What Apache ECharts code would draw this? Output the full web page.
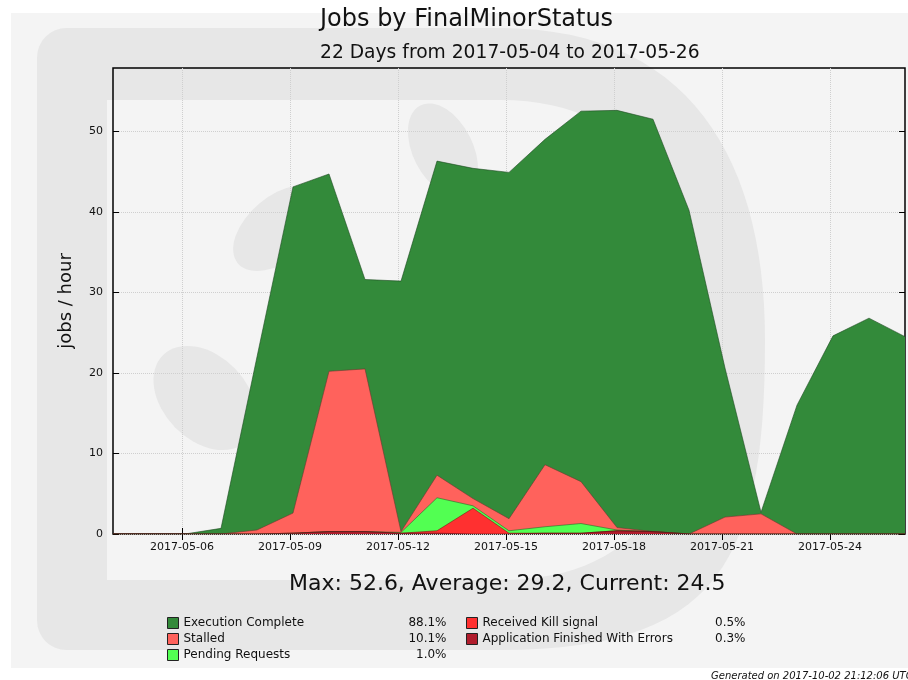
<!DOCTYPE html>
<html>
<head>
<meta charset="utf-8">
<script src="https://cdn.jsdelivr.net/npm/echarts@6/dist/echarts.min.js"></script>
<style>
  html, body { margin: 0; padding: 0; background: #fff; }
  #main { width: 908px; height: 680px; }
</style>
</head>
<body>
<div id="main"></div>
<script>
// daily points (bins at 02:00 UTC)
const dates = ['2017-05-04','2017-05-05','2017-05-06','2017-05-07','2017-05-08','2017-05-09','2017-05-10',
  '2017-05-11','2017-05-12','2017-05-13','2017-05-14','2017-05-15','2017-05-16','2017-05-17','2017-05-18',
  '2017-05-19','2017-05-20','2017-05-21','2017-05-22','2017-05-23','2017-05-24','2017-05-25','2017-05-26'];

const execComplete = [0,0,0,0.7,21.5,40.5,24.5,11.1,31.1,39.0,41.0,43.0,40.4,46.0,51.8,51.2,40.2,18.5,0.2,16.0,24.6,26.8,24.5];
const stalled      = [0,0,0,0,0.5,2.5,19.9,20.2,0.1,2.8,0.9,1.5,7.7,5.2,0.3,0,0,2.1,2.5,0,0,0,0];
const pending      = [0,0,0,0,0,0,0,0,0.1,4.1,0.3,0.3,0.8,1.2,0.1,0,0,0,0,0,0,0,0];
const killSignal   = [0,0,0,0,0,0,0,0,0,0.3,3.2,0.1,0,0,0,0,0,0,0,0,0,0,0];
const appErrors    = [0,0,0,0,0,0.1,0.3,0.3,0.1,0.1,0,0,0.1,0.1,0.4,0.3,0,0,0,0,0,0,0];

const tickDates = ['2017-05-06','2017-05-09','2017-05-12','2017-05-15','2017-05-18','2017-05-21','2017-05-24'];
const yTicks = [0, 10, 20, 30, 40, 50];

const percents = {
  'Execution Complete': '88.1%',
  'Stalled': '10.1%',
  'Pending Requests': '1.0%',
  'Received Kill signal': '0.5%',
  'Application Finished With Errors': '0.3%'
};

// x values are UTC timestamps (ms)
function ts(d, h) {
  const p = d.split('-').map(Number);
  return Date.UTC(p[0], p[1] - 1, p[2], h || 0);
}
function fmtDate(v) {
  return new Date(v).toISOString().slice(0, 10);
}

const FONT = 'DejaVu Sans';
const tickVals = tickDates.map(d => ts(d));
const xMin = ts(dates[0], 2);
const xMax = ts(dates[dates.length - 1], 2);

// stack bottom -> top, like the original plot (smallest at the bottom)
const layers = [
  { name: 'Application Finished With Errors', vals: appErrors, color: '#b01c2c', edge: '#5a1018' },
  { name: 'Received Kill signal', vals: killSignal, color: '#ff3030', edge: '#7a1a1a' },
  { name: 'Pending Requests', vals: pending, color: '#52ff52', edge: '#2a6a2a' },
  { name: 'Stalled', vals: stalled, color: '#ff625c', edge: '#6a3a30' },
  { name: 'Execution Complete', vals: execComplete, color: '#338a3a', edge: '#1f4a22' }
];

// running totals, each layer filled down to zero; upper layers are drawn first
let running = dates.map(() => 0);
const stackedSeries = layers.map(l => {
  running = running.map((v, i) => v + l.vals[i]);
  return {
    name: l.name,
    type: 'line',
    data: dates.map((d, i) => [ts(d, 2), +running[i].toFixed(2)]),
    symbol: 'none',
    showSymbol: false,
    smooth: false,
    itemStyle: { color: l.color },
    lineStyle: { color: l.edge, width: 0.6 },
    areaStyle: { color: l.color, opacity: 1, origin: 'start' }
  };
}).reverse();

// --- watermark helpers (decoration only) ---
function cubic(p0, p1, p2, p3, n) {
  const out = [];
  for (let i = 1; i <= n; i++) {
    const t = i / n, u = 1 - t;
    out.push([
      u*u*u*p0[0] + 3*u*u*t*p1[0] + 3*u*t*t*p2[0] + t*t*t*p3[0],
      u*u*u*p0[1] + 3*u*u*t*p1[1] + 3*u*t*t*p2[1] + t*t*t*p3[1]
    ]);
  }
  return out;
}
const outerD = [[67, 28], [500, 28]]
  .concat(cubic([500, 28], [690, 28], [765, 160], [765, 340], 30))
  .concat(cubic([765, 340], [765, 560], [720, 650], [500, 650], 30))
  .concat([[67, 650]])
  .concat(cubic([67, 650], [50, 650], [37, 637], [37, 620], 8))
  .concat([[37, 58]])
  .concat(cubic([37, 58], [37, 41], [50, 28], [67, 28], 8));
const innerD = [[107, 100], [500, 100]]
  .concat(cubic([500, 100], [640, 100], [695, 200], [695, 340], 30))
  .concat(cubic([695, 340], [695, 490], [640, 580], [500, 580], 30))
  .concat([[107, 580]]);

function blob(x, y, rx, ry, rot) {
  return { type: 'circle', z: -17, silent: true, x: x, y: y, rotation: rot,
    scaleX: rx / ry, scaleY: 1, shape: { cx: 0, cy: 0, r: ry }, style: { fill: '#e7e7e7' } };
}

const legendRich = {
  n: { width: 213, fontSize: 12, lineHeight: 11, fontFamily: FONT, color: '#111' },
  p: { width: 50, align: 'right', fontSize: 12, lineHeight: 11, fontFamily: FONT, color: '#111' }
};
function legendFmt(name) {
  return '{n|' + name + '}{p|' + percents[name] + '}';
}

const chart = echarts.init(document.getElementById('main'), null, { renderer: 'canvas' });

chart.setOption({
  backgroundColor: '#ffffff',
  animation: false,
  textStyle: { fontFamily: FONT },
  title: [
    { text: 'Jobs by FinalMinorStatus', left: 315, top: 3,
      textStyle: { fontSize: 24, fontWeight: 'normal', color: '#111', fontFamily: FONT } },
    { text: '22 Days from 2017-05-04 to 2017-05-26', left: 315, top: 39,
      textStyle: { fontSize: 18.7, fontWeight: 'normal', color: '#111', fontFamily: FONT } },
    { text: 'Max: 52.6, Average: 29.2, Current: 24.5', left: 284, top: 568,
      textStyle: { fontSize: 22, fontWeight: 'normal', color: '#111', fontFamily: FONT } },
    { text: 'Generated on 2017-10-02 21:12:06 UTC', left: 706, top: 666,
      textStyle: { fontSize: 10, fontWeight: 'normal', fontStyle: 'italic', color: '#111', fontFamily: FONT } }
  ],
  // DIRAC watermark behind the plot
  graphic: [
    { type: 'rect', z: -20, silent: true, shape: { x: 11, y: 13, width: 897, height: 655 },
      style: { fill: '#f4f4f4' } },
    { type: 'polygon', z: -19, silent: true, shape: { points: outerD }, style: { fill: '#e7e7e7' } },
    { type: 'polygon', z: -18, silent: true, shape: { points: innerD }, style: { fill: '#f4f4f4' } },
    blob(280, 228, 55, 32, 0.7),
    blob(443, 150, 50, 30, -1.1),
    blob(205, 398, 60, 42, -0.8)
  ],
  grid: {
    left: 113, top: 68, width: 792, height: 466,
    show: true, borderColor: '#000', borderWidth: 1.5, backgroundColor: 'transparent'
  },
  legend: [
    { left: 162, top: 612, orient: 'vertical', icon: 'rect', itemWidth: 11, itemHeight: 11, itemGap: 4,
      selectedMode: false, data: ['Execution Complete', 'Stalled', 'Pending Requests'],
      itemStyle: { borderColor: '#222', borderWidth: 1 },
      formatter: legendFmt, textStyle: { lineHeight: 11, rich: legendRich } },
    { left: 461, top: 612, orient: 'vertical', icon: 'rect', itemWidth: 11, itemHeight: 11, itemGap: 4,
      selectedMode: false, data: ['Received Kill signal', 'Application Finished With Errors'],
      itemStyle: { borderColor: '#222', borderWidth: 1 },
      formatter: legendFmt, textStyle: { lineHeight: 11, rich: legendRich } }
  ],
  xAxis: [
    {
      type: 'value', position: 'bottom', min: xMin, max: xMax,
      axisLine: { show: false },
      axisTick: { show: true, inside: true, length: 6, customValues: tickVals, lineStyle: { color: '#000' } },
      axisLabel: { customValues: tickVals, formatter: fmtDate, fontSize: 11, color: '#111', margin: 8, fontFamily: FONT },
      splitLine: { show: true, lineStyle: { color: '#cfcfcf', type: 'dotted', width: 1 } }
    },
    {
      type: 'value', position: 'top', min: xMin, max: xMax,
      axisLine: { show: false },
      axisTick: { show: true, inside: true, length: 6, customValues: tickVals, lineStyle: { color: '#000' } },
      axisLabel: { show: false },
      splitLine: { show: false }
    }
  ],
  yAxis: [
    {
      type: 'value', position: 'left', min: 0, max: 57.86, interval: 10,
      name: 'jobs / hour', nameLocation: 'middle', nameRotate: 90, nameGap: 38,
      nameTextStyle: { fontSize: 18, color: '#111', fontFamily: FONT },
      axisLine: { show: false },
      axisTick: { show: true, inside: true, length: 6, customValues: yTicks, lineStyle: { color: '#000' } },
      axisLabel: { customValues: yTicks, fontSize: 11, color: '#111', margin: 10, fontFamily: FONT },
      splitLine: { show: true, lineStyle: { color: '#cfcfcf', type: 'dotted', width: 1 } }
    },
    {
      type: 'value', position: 'right', min: 0, max: 57.86, interval: 10,
      axisLine: { show: false },
      axisTick: { show: true, inside: true, length: 6, customValues: yTicks, lineStyle: { color: '#000' } },
      axisLabel: { show: false },
      splitLine: { show: false }
    }
  ],
  series: stackedSeries
});
</script>
</body>
</html>
